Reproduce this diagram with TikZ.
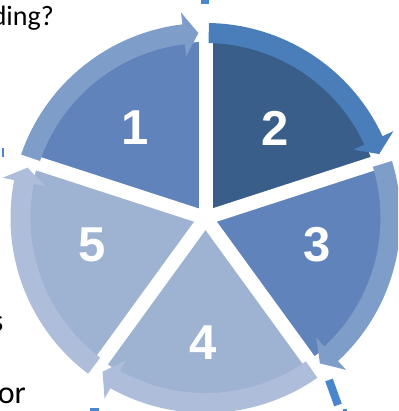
\documentclass[tikz,border=0pt]{standalone}
\usepackage{fontspec}
\usepackage{tikz}
\newfontfamily\digitfont{Liberation Sans}
\newfontfamily\slidefont{Carlito}
\definecolor{segdark}{RGB}{58,94,138}
\definecolor{segmid}{RGB}{95,131,186}
\definecolor{seglight}{RGB}{158,178,210}
\definecolor{ringdark}{RGB}{74,126,187}
\definecolor{ringmid}{RGB}{126,157,201}
\definecolor{ringlight}{RGB}{174,189,217}
\definecolor{guideblue}{RGB}{74,134,206}
\tikzset{
  digit/.style={text=white, font=\digitfont\bfseries\fontsize{49}{49}\selectfont, inner sep=0pt},
  slidetext/.style={font=\slidefont\fontsize{28}{28}\selectfont, inner sep=0pt, anchor=base east},
  gapline/.style={white, line width=14pt},
  guide/.style={guideblue, line width=8pt}
}
% rim arrow: colour, start angle, head base angle, tip angle
\newcommand{\ringarrow}[4]{%
  \fill[#1] (#2:195) arc[start angle=#2, end angle=#3, radius=195]
    -- (#3:207) -- (#4:185) -- (#3:163) -- (#3:175)
    arc[start angle=#3, end angle=#2, radius=175] -- cycle;}

\begin{document}
\begin{tikzpicture}[x=1pt,y=1pt]
\useasboundingbox (0,0) rectangle (398,411);
\clip (0,0) rectangle (398,411);

% text of the slide behind the cycle
\node[slidetext] (ding) at (54,385) {ding?};
\node[slidetext, font=\slidefont\fontsize{32}{32}\selectfont] (lineS) at (3.5,79) {s};
\node[slidetext, font=\slidefont\fontsize{32}{32}\selectfont] (lineOr) at (26,8) {or};

% bits of the blue dashed guide
\fill[guideblue] (201,407) rectangle (209,411);
\draw[guideblue, line width=2pt] (3,254) -- (3,263);
\fill[guideblue] (90,0) rectangle (99,3);
\draw[guide] (329,31) -- (338,6);
\fill[guideblue] (343,0) rectangle (347,2);

\begin{scope}[shift={(205.5,193)}]
  \coordinate (C) at (0,0);
  % pie wedges
  \fill[segmid] (C) -- (162:176) arc[start angle=162, end angle=90, radius=176] -- cycle;
  \fill[segdark] (C) -- (90:176) arc[start angle=90, end angle=18, radius=176] -- cycle;
  \fill[segmid] (C) -- (18:176) arc[start angle=18, end angle=-54, radius=176] -- cycle;
  \fill[seglight] (C) -- (-54:176) arc[start angle=-54, end angle=-126, radius=176] -- cycle;
  \fill[seglight] (C) -- (-126:176) arc[start angle=-126, end angle=-198, radius=176] -- cycle;
  % white gaps between the wedges
  \coordinate (G1) at (90:185);
  \coordinate (G2) at (18:185);
  \coordinate (G3) at (-54:185);
  \coordinate (G4) at (-126:185);
  \coordinate (G5) at (162:185);
  \draw[gapline] (C) -- (G1);
  \draw[gapline] (C) -- (G2);
  \draw[gapline] (C) -- (G3);
  \draw[gapline] (C) -- (G4);
  \draw[gapline] (C) -- (G5);
  % arrows round the rim
  \ringarrow{ringmid}{161}{96.8}{92.2}
  \ringarrow{ringdark}{89}{24.8}{20.2}
  \ringarrow{ringmid}{17}{-47.2}{-51.8}
  \ringarrow{ringlight}{-55}{-119.2}{-123.8}
  \ringarrow{ringlight}{-127}{-191.2}{-195.8}
  % step numbers
  \node[digit] (n1) at (-70.5,90) {1};
  \node[digit] (n2) at (69.5,90) {2};
  \node[digit] (n3) at (111.5,-27) {3};
  \node[digit] (n4) at (-2.5,-125) {4};
  \node[digit] (n5) at (-113.5,-27) {5};
\end{scope}
\end{tikzpicture}
\end{document}
